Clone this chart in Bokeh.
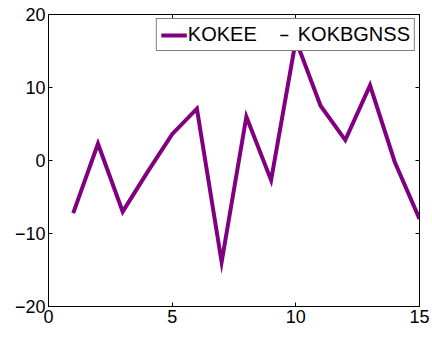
from bokeh.plotting import figure
from bokeh.models import Range1d, LinearAxis, FixedTicker, Legend, LegendItem
from bokeh.embed import file_html
from bokeh.resources import INLINE

nan = float("nan")

# Series values
x_vals = list(range(1, 16))
kokee = [-7.2, 2.3, -7.0, -1.6, 3.6, 7.1, -13.9, 6.0, -2.7, 16.5, 7.5, 2.8, 10.3, -0.2, -8.0]
kokbgnss = [nan] * 15  # no valid samples for this receiver
x_ticks = [0, 5, 10, 15]
y_ticks = [-20, -10, 0, 10, 20]

FONT = "Liberation Sans"

p = figure(width=432, height=337, output_backend="svg", toolbar_location=None,
           x_range=Range1d(0, 15), y_range=Range1d(-20, 20),
           min_border_left=48, min_border_right=13, min_border_top=14,
           min_border_bottom=31, x_axis_location=None, y_axis_location=None)
p.grid.visible = False
p.outline_line_color = "black"
p.outline_line_width = 1
p.background_fill_color = "white"
p.border_fill_color = "white"


def style_axis(ax, ticks, labels=True):
    ax.ticker = FixedTicker(ticks=ticks)
    ax.major_tick_in = 4
    ax.major_tick_out = 0
    ax.minor_tick_line_color = None
    ax.axis_line_color = "black"
    ax.major_tick_line_color = "black"
    ax.major_label_text_font = FONT
    ax.major_label_text_font_size = "18px"
    ax.major_label_text_color = "black"
    ax.major_label_standoff = 3
    if not labels:
        # mirrored tick marks only, no numbers
        ax.major_label_overrides = {t: "" for t in ticks}
        ax.major_label_standoff = 0


bottom = LinearAxis()
style_axis(bottom, x_ticks)
left = LinearAxis()
style_axis(left, y_ticks)
top = LinearAxis()
style_axis(top, x_ticks, labels=False)
right = LinearAxis()
style_axis(right, y_ticks, labels=False)
p.add_layout(bottom, "below")
p.add_layout(left, "left")
p.add_layout(top, "above")
p.add_layout(right, "right")

r1 = p.line(x_vals, kokee, line_color="#800080", line_width=4, line_join="miter")
# second series: shown only as a short black dash key
r2 = p.scatter(x_vals, kokbgnss, marker="dash", size=9,
               line_color="black", line_width=1.5)

legend = Legend(items=[LegendItem(label="KOKEE", renderers=[r1]),
                       LegendItem(label="KOKBGNSS", renderers=[r2])],
                orientation="horizontal", location="top_right",
                glyph_width=26, glyph_height=20, label_standoff=1,
                spacing=14, padding=4, margin=4,
                label_text_font=FONT, label_text_font_size="20px",
                label_text_color="black",
                label_height=20,
                border_line_color="black", border_line_width=1,
                background_fill_alpha=1.0)
p.add_layout(legend, "center")

open("out.html", "w").write(file_html(p, INLINE))
